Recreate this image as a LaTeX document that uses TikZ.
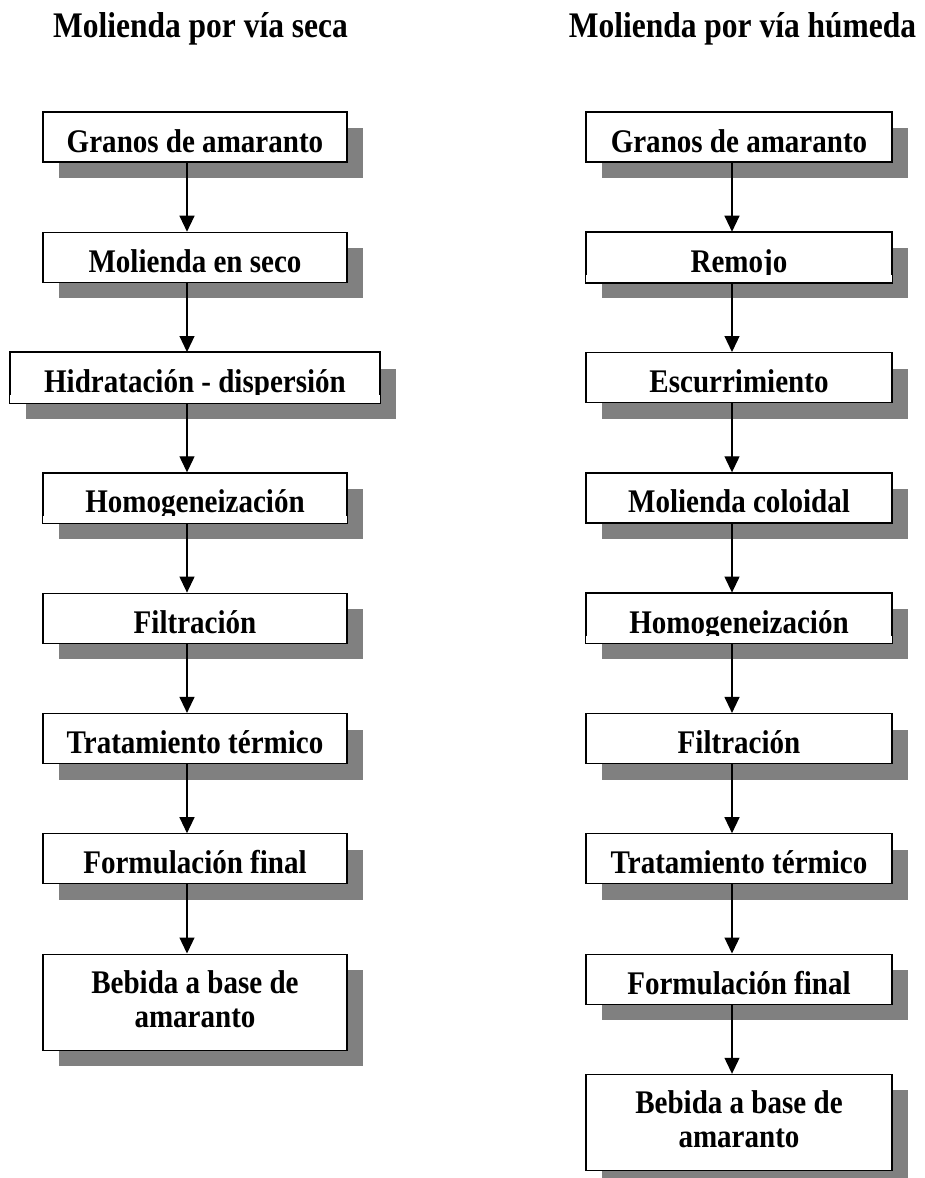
\documentclass[tikz,border=0pt]{standalone}
\usepackage{fontspec}
\setmainfont{Liberation Serif}
\newfontfamily\boxfont{Liberation Serif}[FakeStretch=0.88]
\newfontfamily\ttlfont{Liberation Serif}[FakeStretch=0.875]
\usetikzlibrary{arrows.meta,shadows,calc}
\begin{document}
\begin{tikzpicture}[x=1pt,y=-1pt,
  box/.style={draw, line width=1.2pt, fill=white, inner sep=0pt,
    minimum height=50pt, text height=30pt, text depth=0pt,
    font=\boxfont\bfseries\fontsize{33}{34}\selectfont,
    drop shadow={shadow xshift=16pt, shadow yshift=-16pt, fill=black!50, opacity=1, draw=none}},
  wleft/.style={box, minimum width=304pt},
  wright/.style={box, minimum width=306pt},
  tall/.style={minimum height=96pt, text height=16pt, text depth=34pt},
  ttl/.style={font=\ttlfont\bfseries\fontsize{36}{40}\selectfont, inner sep=0pt, anchor=base},
  arr/.style={line width=1.2pt, -{Triangle[width=15pt,length=16pt]}},
  cut/.style={fill=white},
  rim/.style={draw, line width=1.2pt}
]
\useasboundingbox (0,0) rectangle (924,1178);

% titles
\node[ttl] (tl) at (200.5,37) {Molienda por vía seca};
\node[ttl] (tr) at (742.5,37) {Molienda por vía húmeda};

% left column
\node[wleft] (l1) at (195,137) {Granos de amaranto};
\node[wleft] (l2) at (195,257.3) {Molienda en seco};
\node[box, minimum width=370pt] (l3) at (195,377.6) {Hidratación - dispersión};
\node[wleft] (l4) at (195,497.9) {Homogeneización};
\node[wleft] (l5) at (195,618.2) {Filtración};
\node[wleft] (l6) at (195,738.5) {Tratamiento térmico};
\node[wleft] (l7) at (195,858.8) {Formulación final};
\node[wleft, tall] (l8) at (195,1002.1) {\begin{tabular}[t]{@{}c@{}}Bebida a base de\\amaranto\end{tabular}};

% right column
\node[wright] (r1) at (739,137) {Granos de amaranto};
\node[wright] (r2) at (739,257.3) {Remojo};
\node[wright] (r3) at (739,377.6) {Escurrimiento};
\node[wright] (r4) at (739,497.9) {Molienda coloidal};
\node[wright] (r5) at (739,618.2) {Homogeneización};
\node[wright] (r6) at (739,738.5) {Filtración};
\node[wright] (r7) at (739,858.8) {Tratamiento térmico};
\node[wright] (r8) at (739,979.1) {Formulación final};
\node[wright, tall] (r9) at (739,1122.4) {\begin{tabular}[t]{@{}c@{}}Bebida a base de\\amaranto\end{tabular}};

% clipped descenders (text cut just below the baseline), then the frame again
\foreach \n in {l3,l4,r2,r5}{
  \fill[cut] ($(\n.south west)+(0,-8)$) rectangle (\n.south east);
  \draw[rim] (\n.south west) rectangle (\n.north east);
}

% connectors
\coordinate (axl) at (187,0);
\coordinate (axr) at (732,0);
\foreach \a/\b in {l1/l2,l2/l3,l3/l4,l4/l5,l5/l6,l6/l7,l7/l8}{
  \draw[arr] (\a.south -| axl) -- (\b.north -| axl);
}
\foreach \a/\b in {r1/r2,r2/r3,r3/r4,r4/r5,r5/r6,r6/r7,r7/r8,r8/r9}{
  \draw[arr] (\a.south -| axr) -- (\b.north -| axr);
}
\end{tikzpicture}
\end{document}
